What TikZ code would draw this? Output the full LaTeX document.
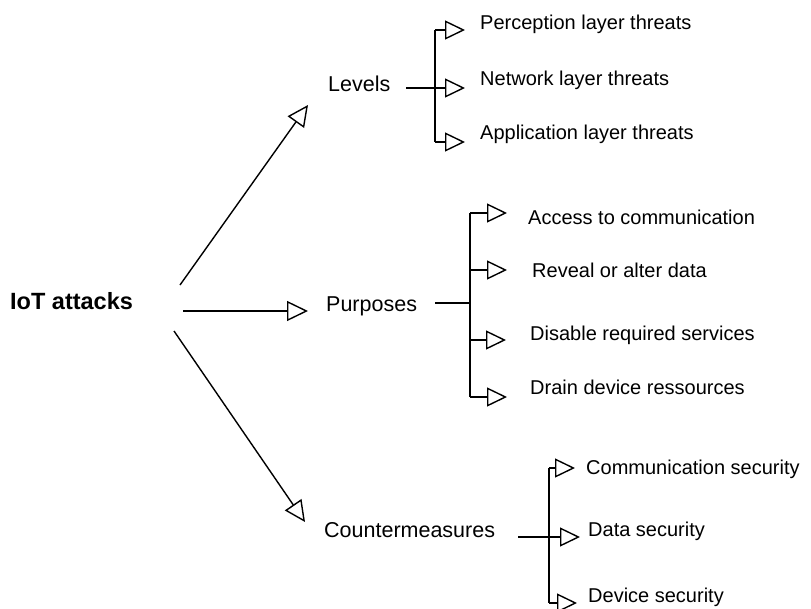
\documentclass[tikz,border=0pt]{standalone}
\usepackage{fontspec}
\setmainfont{Liberation Sans}
\usetikzlibrary{arrows.meta}
\begin{document}
\begin{tikzpicture}[x=1pt,y=-1pt,
  mainlbl/.style={anchor=base west,inner sep=0pt,font=\fontsize{23.5}{27}\selectfont\bfseries},
  catlbl/.style={anchor=base west,inner sep=0pt,font=\fontsize{21.5}{25}\selectfont},
  leaflbl/.style={anchor=base west,inner sep=0pt,font=\fontsize{20}{24}\selectfont},
  conn/.style={line width=1.4pt,black},
  bigarrow/.style={conn,-{Triangle[open,length=21pt,width=20pt,line width=1.4pt]}},
  leafarrow/.style={conn,-{Triangle[open,length=20pt,width=19pt,line width=1.4pt]}}]
\useasboundingbox (0,0) rectangle (811,608);
% labels
\node[mainlbl] (iot) at (10,309) {IoT attacks};
\node[catlbl] (lev) at (328,91) {Levels};
\node[catlbl] (pur) at (326,311) {Purposes};
\node[catlbl] (cnt) at (324,537) {Countermeasures};
\node[leaflbl] (l1) at (480,29) {Perception layer threats};
\node[leaflbl] (l2) at (480,85) {Network layer threats};
\node[leaflbl] (l3) at (480,139) {Application layer threats};
\node[leaflbl] (p1) at (528,224) {Access to communication};
\node[leaflbl] (p2) at (532,277) {Reveal or alter data};
\node[leaflbl] (p3) at (530,340) {Disable required services};
\node[leaflbl] (p4) at (530,394) {Drain device ressources};
\node[leaflbl] (c1) at (586,474) {Communication security};
\node[leaflbl] (c2) at (588,536) {Data security};
\node[leaflbl] (c3) at (588,602) {Device security};
% main arrows
\coordinate (a1s) at (180,285); \coordinate (a1e) at (308,105);
\coordinate (a2s) at (183,311); \coordinate (a2e) at (308,311);
\coordinate (a3s) at (174,331); \coordinate (a3e) at (305,522);
\draw[bigarrow] (a1s) -- (a1e);
\draw[bigarrow] (a2s) -- (a2e);
\draw[bigarrow] (a3s) -- (a3e);
% Levels branch
\coordinate (ls) at (406,88); \coordinate (lm) at (435,88);
\coordinate (lt) at (435,30); \coordinate (lb) at (435,142);
\draw[conn] (ls) -- (lm);
\draw[conn] (lt) -- (lb);
\coordinate (l1e) at (465,30); \coordinate (l2e) at (465,88); \coordinate (l3e) at (465,142);
\draw[leafarrow] (lt) -- (l1e);
\draw[leafarrow] (lm) -- (l2e);
\draw[leafarrow] (lb) -- (l3e);
% Purposes branch
\coordinate (ps) at (435,303); \coordinate (pm) at (470,303);
\coordinate (pt) at (470,213); \coordinate (pb) at (470,397);
\draw[conn] (ps) -- (pm);
\draw[conn] (pt) -- (pb);
\coordinate (p2s) at (470,270); \coordinate (p3s) at (470,340);
\coordinate (p1e) at (507,213); \coordinate (p2e) at (507,270);
\coordinate (p3e) at (506,340); \coordinate (p4e) at (507,397);
\draw[leafarrow] (pt) -- (p1e);
\draw[leafarrow] (p2s) -- (p2e);
\draw[leafarrow] (p3s) -- (p3e);
\draw[leafarrow] (pb) -- (p4e);
% Countermeasures branch
\coordinate (cs) at (518,537); \coordinate (cm) at (549,537);
\coordinate (ct) at (549,468); \coordinate (cb) at (549,603);
\draw[conn] (cs) -- (cm);
\draw[conn] (ct) -- (cb);
\coordinate (c1e) at (575,468); \coordinate (c2e) at (580,537); \coordinate (c3e) at (577,603);
\draw[leafarrow] (ct) -- (c1e);
\draw[leafarrow] (cm) -- (c2e);
\draw[leafarrow] (cb) -- (c3e);
\end{tikzpicture}
\end{document}
